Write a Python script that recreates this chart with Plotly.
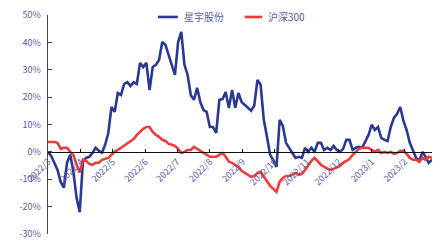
import pandas as pd
import plotly.graph_objects as go

# Dates: one observation every 3 calendar days, 2022-03-01 .. 2023-02-28
dates = pd.date_range("2022-03-01", periods=122, freq="3D")

xingyu = [
    0.0, -1.5, -4.0, -6.6, -11.0, -13.1, -4.0, -1.0, -7.3, -16.8,
    -22.0, -3.6, -2.2, -1.8, -0.4, 1.5, 0.4, -0.3, 2.6, 6.9,
    16.4, 14.6, 21.5, 20.8, 24.8, 25.5, 24.1, 25.5, 24.8, 32.5,
    31.0, 32.5, 22.6, 31.0, 31.8, 33.6, 40.1, 39.1, 35.4, 31.8,
    28.1, 40.1, 43.8, 31.8, 28.1, 20.8, 19.0, 23.4, 18.2, 15.3,
    14.6, 9.1, 9.1, 6.9, 19.0, 19.3, 21.9, 16.0, 22.6, 16.1,
    21.5, 18.2, 17.2, 16.1, 15.0, 17.0, 26.3, 24.5, 11.7, 5.5,
    -1.1, -3.0, -5.5, 11.7, 9.5, 3.3, 1.5, 0.0, -2.2, -1.8,
    -2.2, 1.5, 0.0, 1.5, 0.0, 3.3, 3.3, 0.7, 1.5, 0.7,
    2.2, 0.7, 0.0, 1.1, 4.4, 4.4, 0.7, 1.5, 1.8, 1.5,
    3.6, 6.2, 9.9, 8.0, 9.1, 5.1, 4.4, 4.0, 9.1, 12.4,
    13.9, 16.4, 11.3, 8.0, 3.3, 0.4, -2.2, -3.3, 0.0, -1.8,
    -4.0, -2.9,
]

hs300 = [
    3.6, 3.6, 3.6, 3.3, 1.1, 1.5, 1.5, 0.0, -1.1, -4.7,
    -7.5, -2.9, -3.3, -4.4, -4.7, -4.0, -4.0, -2.9, -2.6, -2.2,
    -1.1, 0.0, 0.7, 1.5, 2.2, 2.9, 3.6, 4.7, 6.2, 7.3,
    8.4, 9.1, 9.1, 7.3, 6.2, 5.5, 4.4, 4.0, 2.9, 2.6,
    2.2, 1.1, -0.4, 0.0, 0.7, 0.7, 1.8, 1.1, 0.4, -0.4,
    -1.1, -1.8, -1.8, -1.8, -1.1, -0.4, -1.8, -3.6, -4.0, -4.7,
    -5.5, -6.9, -7.7, -8.4, -9.1, -8.8, -7.7, -7.3, -9.1, -10.9,
    -12.4, -13.5, -14.6, -10.9, -9.5, -8.8, -8.8, -8.4, -7.7, -8.4,
    -8.0, -6.6, -4.7, -3.3, -2.2, -3.6, -4.7, -5.5, -6.2, -6.6,
    -6.2, -5.5, -5.1, -4.0, -3.3, -2.6, -1.1, 0.0, 1.1, 1.5,
    1.5, 1.5, 0.7, 0.0, 0.7, -0.4, 0.0, -0.4, 0.0, -0.7,
    -0.4, 0.4, 0.4, -0.7, -2.2, -2.9, -2.9, -3.6, -2.2, -2.9,
    -1.8, -2.2,
]

y_ticks = [50, 40, 30, 20, 10, 0, -10, -20, -30]
y_tick_labels = ["50%", "40%", "30%", "20%", "10%", "0%", "-10%", "-20%", "-30%"]
series_names = ["星宇股份", "沪深300"]
series_colors = ["#2b3992", "#f23a3a"]

label_color = "#5b5b9e"
cjk = "Noto Sans CJK SC"

fig = go.Figure()
fig.add_trace(go.Scatter(x=dates, y=xingyu, mode="lines", name=series_names[0],
                         line=dict(color=series_colors[0], width=2.6), showlegend=False))
fig.add_trace(go.Scatter(x=dates, y=hs300, mode="lines", name=series_names[1],
                         line=dict(color=series_colors[1], width=2.6), showlegend=False))

# Legend drawn as line samples + text at the top of the plot
legend_pos = [(0.286, 0.338), (0.512, 0.558)]
for (x0, x1), name, color in zip(legend_pos, series_names, series_colors):
    fig.add_shape(type="line", xref="paper", yref="paper", x0=x0, x1=x1, y0=0.991, y1=0.991,
                  line=dict(color=color, width=2.6))
    fig.add_annotation(xref="paper", yref="paper", x=x1 + 0.01, y=0.991, text=name,
                       showarrow=False, xanchor="left", yanchor="middle",
                       font=dict(size=10, color=label_color, family=cjk))

fig.update_layout(
    width=441, height=241,
    margin=dict(l=48, r=9, t=15, b=7),
    paper_bgcolor="white", plot_bgcolor="white",
    font=dict(family=cjk, size=9, color=label_color),
    showlegend=False,
    hovermode=False,
    xaxis=dict(type="date", range=[dates[0], dates[-1]],
               anchor="free", position=0.375, automargin=False,
               showline=True, linecolor="#111111", linewidth=1,
               showgrid=False, zeroline=False,
               ticks="inside", ticklen=3, tickcolor="#111111",
               tick0="2022-03-01", dtick="M1", tickformat="%Y/%-m",
               tickangle=-45, tickfont=dict(size=9, color=label_color, family=cjk)),
    yaxis=dict(range=[-30, 50], tickvals=y_ticks, ticktext=y_tick_labels,
               automargin=False,
               showline=True, linecolor="#444444", linewidth=1.5,
               showgrid=False, zeroline=False,
               ticks="inside", ticklen=4, tickcolor="#444444",
               ticklabelstandoff=4,
               tickfont=dict(size=9, color=label_color, family=cjk)),
)

fig.write_html("out.html",
               config={"displayModeBar": False, "staticPlot": True},
               post_script="document.body.style.margin='0';document.body.style.overflow='hidden';")
